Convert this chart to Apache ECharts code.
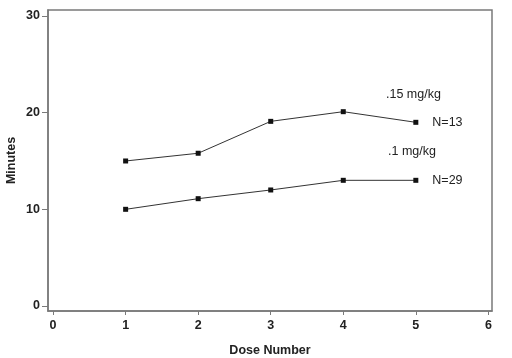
<!DOCTYPE html>
<html><head><meta charset="utf-8">
<script src="https://cdn.jsdelivr.net/npm/echarts@6/dist/echarts.min.js"></script>
<style>html,body{margin:0;padding:0;background:#fff}#c{width:512px;height:358px}</style>
</head><body><div id="c"></div>
<script>
const doses = [1, 2, 3, 4, 5];
const highDose = [15.0, 15.8, 19.1, 20.1, 19.0];   // .15 mg/kg, N=13
const lowDose  = [10.0, 11.1, 12.0, 13.0, 13.0];   // .1 mg/kg, N=29
const xTicks = [0, 1, 2, 3, 4, 5, 6];
const yTicks = [0, 10, 20, 30];
const seriesNames = ['.15 mg/kg', '.1 mg/kg'];
const nLabels = ['N=13', 'N=29'];

const font = 'Liberation Sans, Arial, Helvetica, sans-serif';
const axisGray = '#7a7a7a';
const chart = echarts.init(document.getElementById('c'), null, {renderer: 'canvas'});

function mk(name, vals, nLab) {
  return {
    name: name, type: 'line',
    data: doses.map((d, i) => {
      const item = {value: [d, vals[i]]};
      if (i === doses.length - 1) {
        item.label = {show: true, position: 'right', distance: 14, formatter: nLab,
          fontFamily: font, fontSize: 12.5, color: '#222'};
      }
      return item;
    }),
    symbol: 'rect', symbolSize: 5,
    itemStyle: {color: '#111'},
    lineStyle: {color: '#333', width: 1},
    animation: false, silent: true
  };
}

chart.setOption({
  animation: false,
  grid: {left: 48, right: 20, top: 10, bottom: 47, outerBoundsMode: 'none', containLabel: false,
    show: true, borderColor: axisGray, borderWidth: 1.5, backgroundColor: '#fff'},
  xAxis: {
    type: 'value', min: -0.07, max: 6.05,
    name: 'Dose Number', nameLocation: 'middle', nameGap: 33, nameMoveOverlap: false,
    nameTextStyle: {fontFamily: font, fontSize: 12.5, fontWeight: 'bold', color: '#222'},
    axisLine: {show: true, onZero: false, lineStyle: {color: axisGray, width: 1.5}},
    axisTick: {show: true, inside: false, length: 4, customValues: xTicks, lineStyle: {color: axisGray}},
    axisLabel: {customValues: xTicks, margin: 8, fontFamily: font, fontSize: 12.5, fontWeight: 'bold', color: '#222'},
    splitLine: {show: false}
  },
  yAxis: {
    type: 'value', min: -0.52, max: 30.62,
    name: 'Minutes', nameLocation: 'middle', nameGap: 30, nameRotate: 90, nameMoveOverlap: false,
    nameTextStyle: {fontFamily: font, fontSize: 12.5, fontWeight: 'bold', color: '#222'},
    axisLine: {show: true, onZero: false, lineStyle: {color: axisGray, width: 1.5}},
    axisTick: {show: true, inside: false, length: 6, customValues: yTicks, lineStyle: {color: axisGray}},
    axisLabel: {customValues: yTicks, margin: 8, fontFamily: font, fontSize: 12.5, fontWeight: 'bold', color: '#222'},
    splitLine: {show: false}
  },
  graphic: [
    {type: 'text', left: 386, top: 88, style: {text: seriesNames[0], font: '12.5px ' + font, fill: '#222'}},
    {type: 'text', left: 388, top: 145, style: {text: seriesNames[1], font: '12.5px ' + font, fill: '#222'}}
  ],
  series: [mk(seriesNames[0], highDose, nLabels[0]), mk(seriesNames[1], lowDose, nLabels[1])]
});
</script></body></html>
